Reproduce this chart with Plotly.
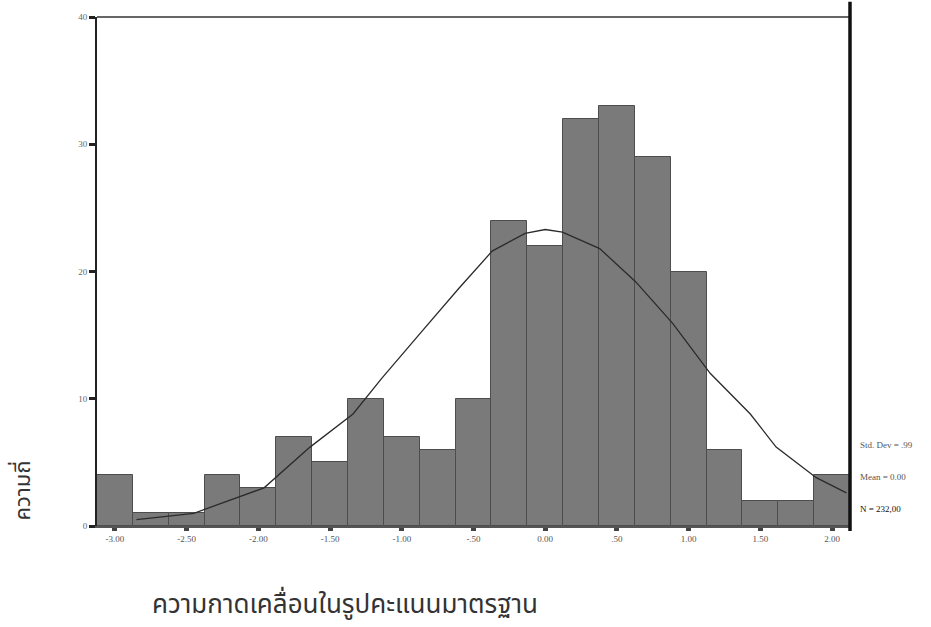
import plotly.graph_objects as go

# Histogram bins (standardized residual), bin width 0.25
bin_centers = [-3.00, -2.75, -2.50, -2.25, -2.00, -1.75, -1.50, -1.25, -1.00, -0.75,
               -0.50, -0.25, 0.00, 0.25, 0.50, 0.75, 1.00, 1.25, 1.50, 1.75, 2.00]
counts = [4, 1, 1, 4, 3, 7, 5, 10, 7, 6, 10, 24, 22, 32, 33, 29, 20, 6, 2, 2, 4]
bin_width = 0.25

# Normal curve points
curve_x = [-2.85, -2.45, -1.96, -1.64, -1.34, -1.14, -0.86, -0.60, -0.37, -0.14,
           0.00, 0.12, 0.38, 0.63, 0.89, 1.15, 1.43, 1.61, 1.89, 2.10]
curve_y = [0.5, 1.0, 3.0, 6.2, 8.8, 11.6, 15.3, 18.7, 21.6, 23.0,
           23.3, 23.1, 21.8, 19.2, 15.9, 12.0, 8.8, 6.2, 3.8, 2.6]

x_tickvals = [-3.0, -2.5, -2.0, -1.5, -1.0, -0.5, 0.0, 0.5, 1.0, 1.5, 2.0]
x_ticktext = ["-3.00", "-2.50", "-2.00", "-1.50", "-1.00", "-.50", "0.00", ".50", "1.00", "1.50", "2.00"]
y_tickvals = [0, 10, 20, 30, 40]
y_ticktext = ["0", "10", "20", "30", "40"]

stats_text = ["Std. Dev = .99", "Mean = 0.00", "N = 232,00"]

x_title = "ความกาดเคลื่อนในรูปคะแนนมาตรฐาน"
y_title = "ความถี่"

fig = go.Figure()
fig.add_trace(go.Bar(
    x=bin_centers, y=counts, width=bin_width,
    marker=dict(color="#7a7a7a", line=dict(color="#4d4d4d", width=1)),
    hoverinfo="x+y", showlegend=False,
))
fig.add_trace(go.Scatter(
    x=curve_x, y=curve_y, mode="lines", line=dict(color="#2b2b2b", width=1.3),
    showlegend=False, hoverinfo="skip",
))

fig.update_layout(
    width=931, height=627,
    margin=dict(l=97, r=81, t=14, b=101),
    paper_bgcolor="white", plot_bgcolor="white",
    bargap=0,
    font=dict(family="Liberation Serif", color="#444"),
    xaxis=dict(
        range=[-3.125, 2.125], tickvals=x_tickvals, ticktext=x_ticktext,
        showgrid=False, zeroline=False,
        showline=True, linecolor="#555", linewidth=2,
        ticks="outside", ticklen=3, tickwidth=5, tickcolor="#444",
        tickfont=dict(size=9, family="Liberation Serif", color="#555"),
    ),
    yaxis=dict(
        range=[0, 40], tickvals=y_tickvals, ticktext=y_ticktext,
        showgrid=False, zeroline=False,
        showline=True, linecolor="#222", linewidth=2,
        ticks="outside", ticklen=6, tickwidth=3, tickcolor="#222",
        tickfont=dict(size=9, family="Liberation Serif", color="#666"),
    ),
)

# Frame: top and right edges
fig.add_shape(type="line", xref="paper", yref="paper", x0=0, x1=1, y0=1, y1=1,
              line=dict(color="#333", width=1.5))
fig.add_shape(type="line", xref="paper", yref="paper", x0=1, x1=1, y0=-0.01, y1=1.03,
              line=dict(color="#111", width=3.5))

# Statistics text at right
stats_y = [0.159, 0.096, 0.033]
for txt, yy in zip(stats_text, stats_y):
    fig.add_annotation(xref="paper", yref="paper", x=1.01, y=yy, xanchor="left", yanchor="middle",
                       text=txt, showarrow=False,
                       font=dict(size=9, family="Liberation Serif",
                                 color="#111" if txt.startswith("N") else "#555"))

# Axis titles
fig.add_annotation(xref="paper", yref="paper", x=0.07, y=-0.155, xanchor="left", yanchor="middle",
                   text=x_title, showarrow=False,
                   font=dict(size=26, color="#333", family="Noto Sans Thai, DejaVu Sans, sans-serif"))
fig.add_annotation(xref="paper", yref="paper", x=-0.098, y=0.07, xanchor="center", yanchor="middle",
                   text=y_title, textangle=-90, showarrow=False,
                   font=dict(size=22, color="#333", family="Noto Sans Thai, DejaVu Sans, sans-serif"))

fig.write_html("out.html")
